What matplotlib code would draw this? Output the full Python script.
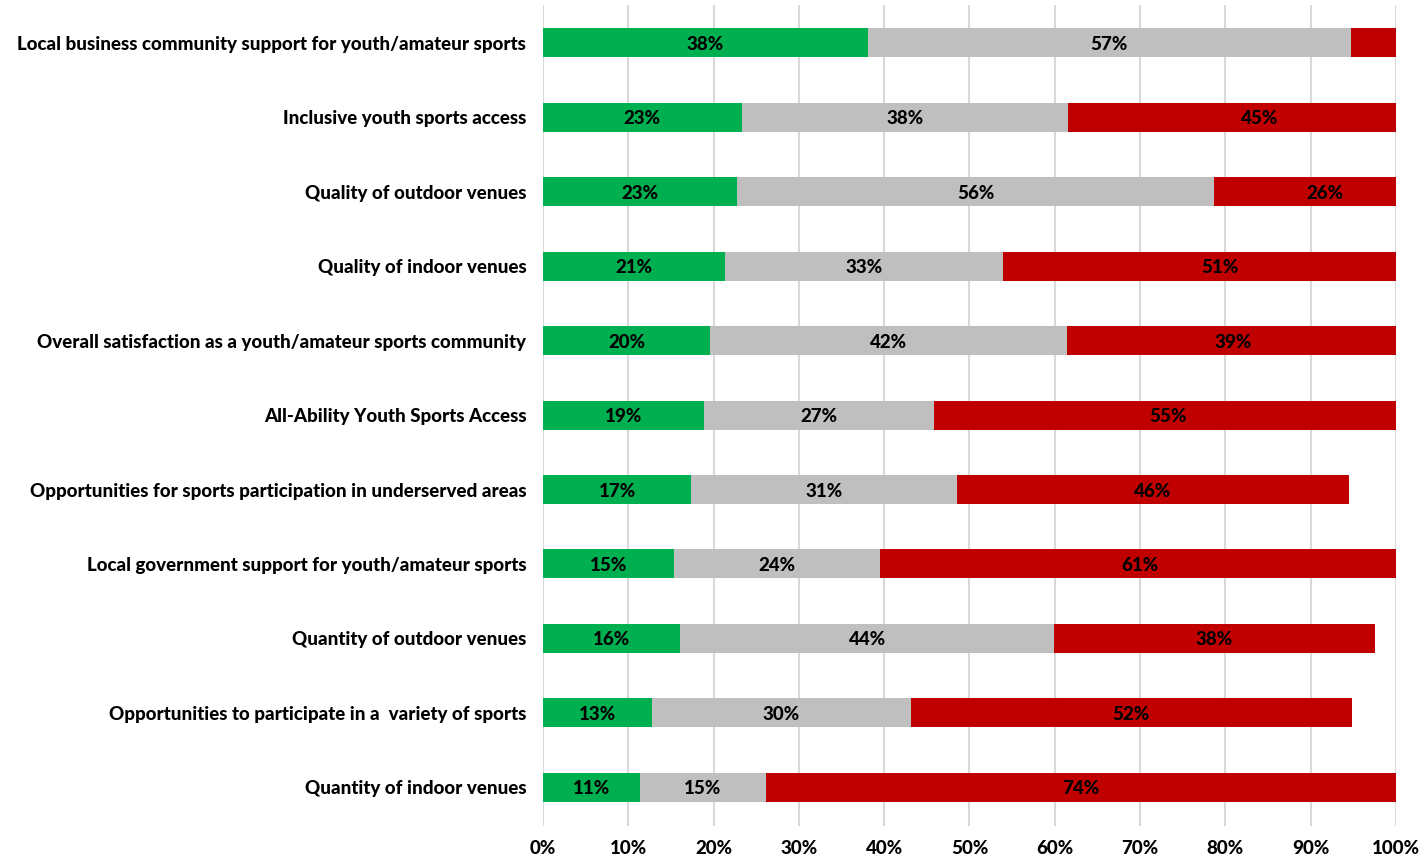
import numpy as np
import matplotlib
matplotlib.use("Agg")
import matplotlib.pyplot as plt

# Categories, top to bottom
categories = [
    "Local business community support for youth/amateur sports",
    "Inclusive youth sports access",
    "Quality of outdoor venues",
    "Quality of indoor venues",
    "Overall satisfaction as a youth/amateur sports community",
    "All-Ability Youth Sports Access",
    "Opportunities for sports participation in underserved areas",
    "Local government support for youth/amateur sports",
    "Quantity of outdoor venues",
    "Opportunities to participate in a  variety of sports",
    "Quantity of indoor venues",
]

# Segment shares (%)
satisfied = [38.1, 23.3, 22.7, 21.3, 19.6, 18.9, 17.4, 15.4, 16.1, 12.8, 11.4]
neutral = [56.6, 38.2, 56.0, 32.6, 41.8, 26.9, 31.1, 24.1, 43.8, 30.3, 14.7]
dissatisfied = [5.3, 45.0, 26.0, 51.0, 39.0, 55.0, 46.0, 61.0, 37.6, 51.7, 74.0]

colors = ["#00B050", "#BFBFBF", "#C00000"]
font = "Lato"
weight = "black"

fig = plt.figure(figsize=(14.24, 8.57), dpi=100)
ax = fig.add_axes([0.3813, 0.0362, 0.599, 0.958])

y = np.arange(len(categories))
left = np.zeros(len(categories))
for vals, c in zip([satisfied, neutral, dissatisfied], colors):
    vals = np.array(vals)
    ax.barh(y, vals, left=left, height=0.39, color=c, zorder=3)
    for yi, l, v in zip(y, left, vals):
        if v >= 8:
            ax.text(l + v / 2, yi + 0.02, f"{round(v)}%", ha="center", va="center",
                    fontsize=13.5, fontweight=weight, family=font, color="black",
                    zorder=4, clip_on=False)
    left = left + vals

ax.set_xlim(0, 100)
ax.set_ylim(10.52, -0.51)
ax.set_xticks(np.arange(0, 101, 10))
ax.set_xticklabels([f"{t}%" for t in range(0, 101, 10)])
ax.set_yticks(y)
ax.set_yticklabels(categories)
for lab in ax.get_xticklabels() + ax.get_yticklabels():
    lab.set_family(font)
    lab.set_fontweight(weight)
    lab.set_fontsize(13.5)
ax.tick_params(axis="both", length=0)
ax.tick_params(axis="y", pad=12)
ax.tick_params(axis="x", pad=10)
ax.grid(axis="x", color="#D9D9D9", linewidth=1.5, zorder=0)
for s in ax.spines.values():
    s.set_visible(False)

fig.savefig("out.png", dpi=100)
